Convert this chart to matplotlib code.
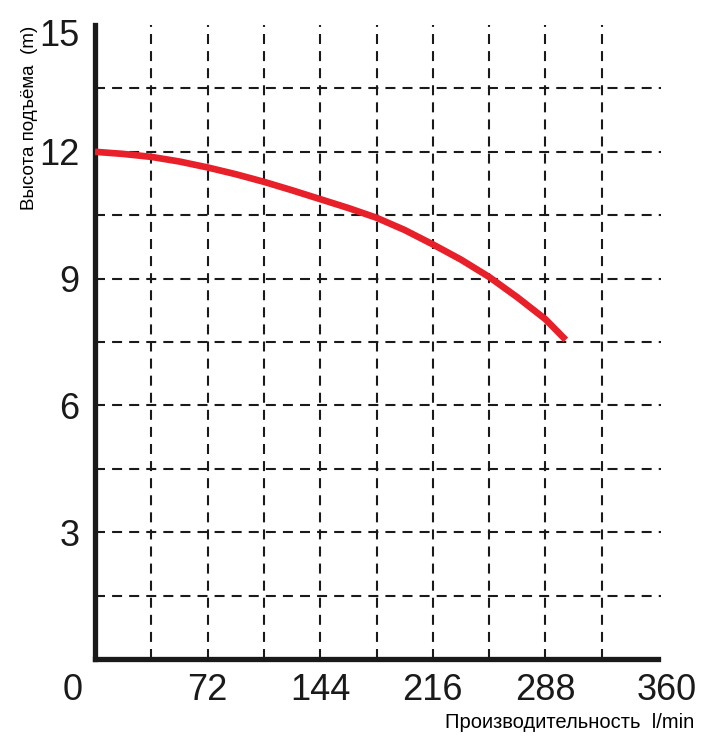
import matplotlib.pyplot as plt
import matplotlib.transforms as mtransforms

# pump curve: flow (l/min) vs head (m)
flow = [0, 18, 36, 54, 72, 90, 108, 126, 144, 162, 180, 198, 216, 234, 252, 270, 288, 301]
head = [12.0, 11.95, 11.88, 11.77, 11.63, 11.47, 11.29, 11.09, 10.88, 10.67, 10.44,
        10.15, 9.81, 9.45, 9.04, 8.56, 8.04, 7.55]

x_ticks = [72, 144, 216, 288, 360]
y_ticks = [3, 6, 9, 12, 15]
x_grid = [36, 72, 108, 144, 180, 216, 252, 288, 324]
y_grid = [1.5, 3, 4.5, 6, 7.5, 9, 10.5, 12, 13.5]

num_font = ['Liberation Sans Narrow', 'Liberation Sans', 'DejaVu Sans']
lab_font = ['Liberation Sans', 'DejaVu Sans']

fig = plt.figure(figsize=(7.21, 7.49), dpi=100)
ax = fig.add_axes([95 / 721, 1 - 659 / 749, 563 / 721, 634 / 749])

ax.set_xlim(0, 360)
ax.set_ylim(0, 15)

# dashed grid
dash = (0, (4.8, 3.4))
for gx in x_grid:
    ax.axvline(gx, color='#1a1a1a', lw=1.5, linestyle=dash, zorder=1)
for gy in y_grid:
    ax.plot([0, 362], [gy, gy], color='#1a1a1a', lw=1.5, linestyle=dash,
            zorder=1, clip_on=False)

ax.plot(flow, head, color='#e8202a', lw=4.8, solid_capstyle='butt',
        solid_joinstyle='round', zorder=3)

for side in ['top', 'right']:
    ax.spines[side].set_visible(False)
for side in ['left', 'bottom']:
    ax.spines[side].set_linewidth(3.8)
    ax.spines[side].set_color('#1a1a1a')

ax.set_xticks(x_ticks)
ax.set_yticks(y_ticks)
ax.tick_params(length=0, labelsize=26, labelcolor='#1a1a1a')
ax.tick_params(axis='x', pad=10)
ax.tick_params(axis='y', pad=11)
for lab in ax.get_xticklabels() + ax.get_yticklabels():
    lab.set_family(num_font)

# nudge the last x label and the top y label like in the original
xl = ax.get_xticklabels()
xl[-1].set_transform(xl[-1].get_transform() + mtransforms.ScaledTranslation(9 / 100, 0, fig.dpi_scale_trans))
yl = ax.get_yticklabels()
yl[-1].set_transform(yl[-1].get_transform() + mtransforms.ScaledTranslation(0, -8 / 100, fig.dpi_scale_trans))

ax.annotate('0', xy=(0, 0), xytext=(-22, -14), textcoords='offset pixels',
            ha='center', va='top', fontsize=26, color='#1a1a1a', family=num_font,
            annotation_clip=False)

fig.text(445 / 721, 1 - 722 / 749, 'Производительность  l/min', ha='left', va='center',
         fontsize=14.5, family=lab_font, color='black')
fig.text(30 / 721, 1 - 118 / 749, 'Высота подъёма  (m)', rotation=90, ha='center', va='center',
         fontsize=13.5, family=lab_font, color='black')

fig.savefig('out.png', dpi=100)
